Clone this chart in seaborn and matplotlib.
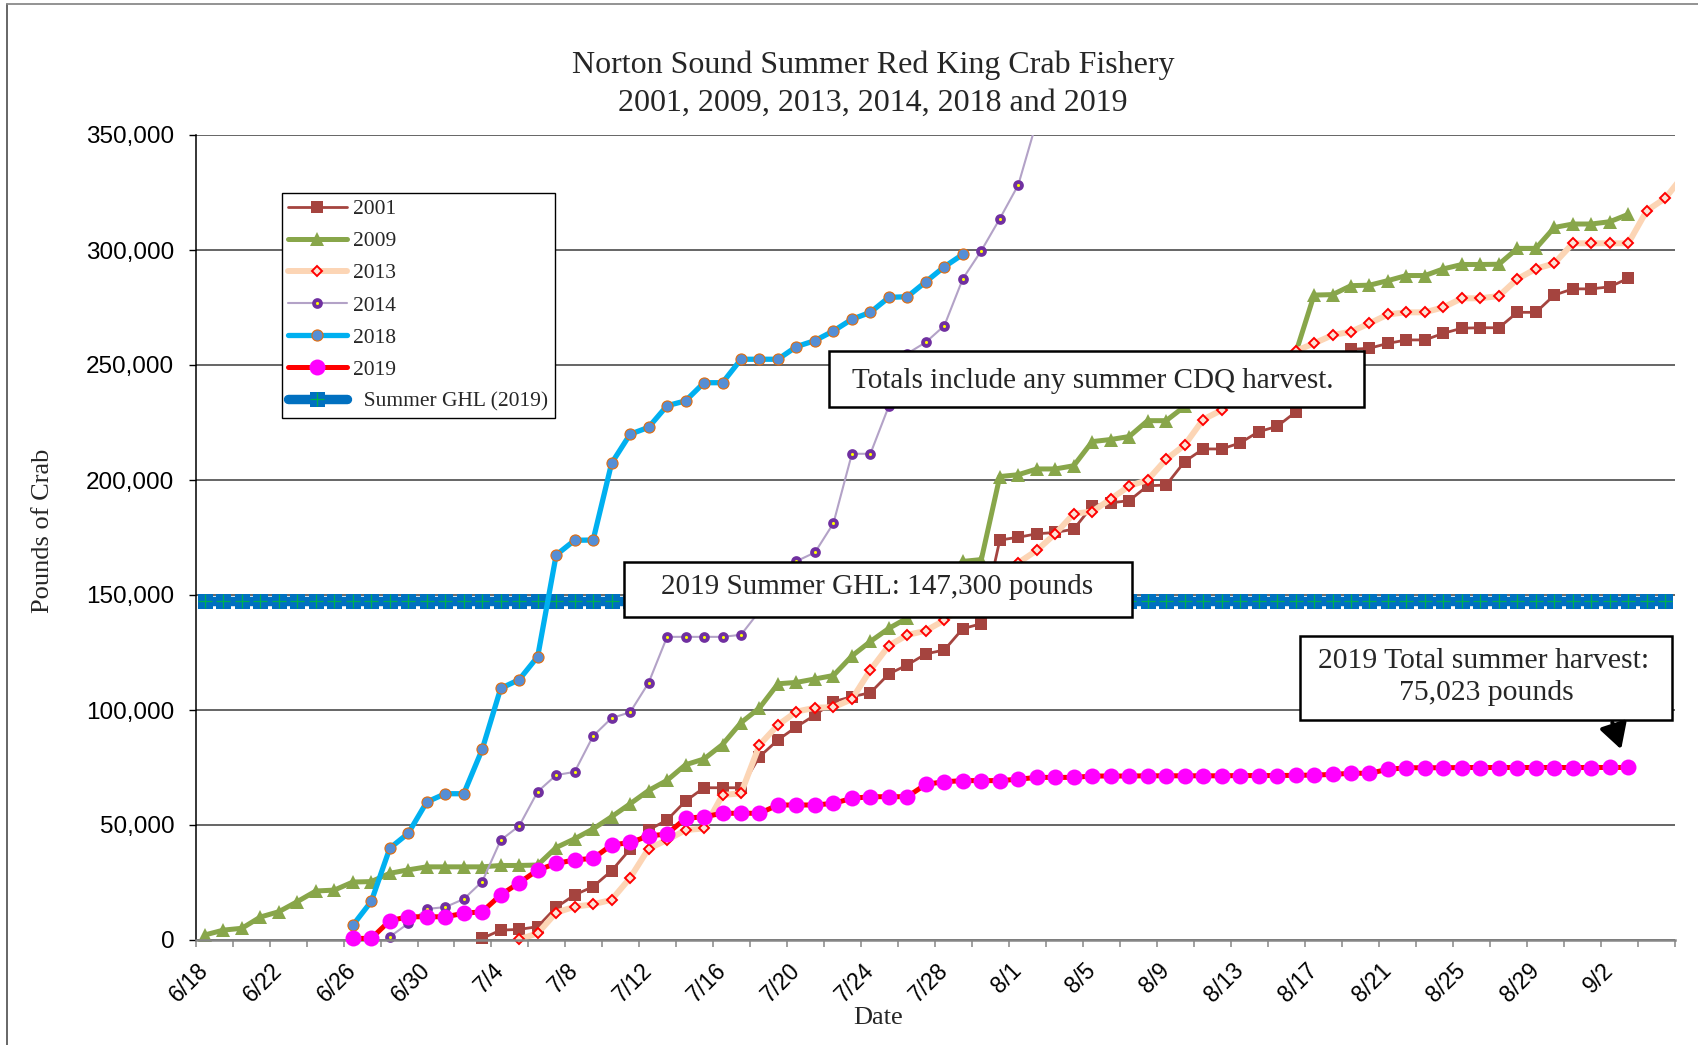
import numpy as np
import pandas as pd
import matplotlib
matplotlib.use("Agg")
import matplotlib.pyplot as plt
import seaborn as sns
from matplotlib.patches import Rectangle, FancyArrowPatch
from matplotlib.lines import Line2D
from matplotlib.ticker import FixedLocator, FuncFormatter

sns.set_theme(style="white")
plt.rcParams["font.family"] = ["Liberation Serif", "DejaVu Serif"]

# ---------------- data ----------------
SEASON_START = "2019-06-18"

start_2001 = "2019-07-03"
pounds_2001 = [700, 4300, 4600, 5800, 14200, 19600, 23200, 30100, 39500, 47800,
               52200, 60400, 66200, 66200, 66200, 79700, 87000, 92700, 97800, 103600,
               105800, 107500, 115700, 119600, 124400, 126100, 135400, 137500, 173900, 175100,
               176600, 177200, 178600, 188700, 190100, 191000, 197500, 197800, 208000, 213500,
               213500, 216100, 221000, 223300, 229500, 241000, 251000, 256800, 257300, 259400,
               260900, 260900, 263800, 266000, 266200, 266200, 272900, 272900, 280400, 283100,
               283100, 284000, 287700]

start_2009 = "2019-06-18"
pounds_2009 = [2200, 4300, 5100, 10000, 12300, 16700, 21300, 21700, 25200, 25400,
               29000, 30500, 31800, 31800, 31800, 31800, 32400, 32400, 32600, 40200,
               44000, 48300, 53600, 59200, 65000, 69400, 76200, 78700, 85000, 94500,
               100900, 111400, 112000, 113500, 115000, 123500, 129800, 135500, 140000, 148000,
               157000, 164600, 165400, 201500, 202300, 204800, 204800, 206200, 216700, 217600,
               218900, 225800, 225800, 232000, 236000, 240000, 244000, 248000, 252000, 255000,
               280400, 280600, 284500, 284700, 286700, 288900, 288900, 291800, 293700, 293700,
               293800, 300700, 300700, 309800, 311300, 311300, 312300, 315500]

start_2013 = "2019-07-05"
pounds_2013 = [300, 2900, 11900, 14500, 15500, 17500, 27000, 39700, 43500, 47800,
               48500, 63000, 63800, 84800, 93500, 99300, 101000, 101200, 104700, 117400,
               128000, 132600, 134500, 139000, 145000, 151000, 158000, 164000, 169400, 176600,
               185300, 186300, 191700, 197400, 200000, 209000, 215200, 226300, 230400, 237000,
               243500, 250000, 256100, 259400, 263000, 264500, 268100, 272000, 272900, 272900,
               275100, 279000, 279000, 280000, 287400, 291800, 294200, 302900, 302900, 302900,
               302900, 317100, 322500, 332600]

start_2014 = "2019-06-28"
pounds_2014 = [1400, 7200, 13500, 14300, 17800, 25400, 43400, 49600, 64500, 71700,
               73100, 88700, 96500, 99000, 111800, 131800, 131800, 131800, 131800, 132700,
               143000, 154000, 164700, 168500, 181200, 211400, 211400, 232200, 255000, 259900,
               267100, 287500, 299700, 313600, 328300, 356000]

start_2018 = "2019-06-26"
pounds_2018 = [6400, 16800, 39900, 46400, 60000, 63600, 63600, 82900, 109400, 113200,
               123200, 167400, 173800, 173900, 207300, 219900, 222900, 232300, 234400, 242300,
               242300, 252500, 252500, 252500, 258000, 260600, 264800, 269900, 272900, 279400,
               279700, 286200, 292700, 298100]

start_2019 = "2019-06-26"
pounds_2019 = [700, 700, 8400, 10100, 10100, 10100, 11600, 12300, 19600, 24900,
               30400, 33300, 34800, 35500, 41300, 42400, 45200, 46100, 52900, 53600,
               55100, 55100, 55100, 58700, 58700, 58700, 59400, 61600, 62300, 62300,
               62300, 67700, 68800, 69300, 69300, 69300, 69900, 70700, 70700, 70700,
               71300, 71300, 71300, 71400, 71400, 71400, 71400, 71400, 71500, 71500,
               71500, 71600, 71700, 72000, 72500, 72500, 74200, 74900, 74900, 74900,
               75000, 75000, 75000, 75000, 75000, 75000, 75000, 75000, 75023, 75023]

ghl_start = "2019-06-18"
ghl_end = "2019-09-05"
ghl_pounds = 147300

x_tick_labels = ["6/18", "6/22", "6/26", "6/30", "7/4", "7/8", "7/12", "7/16", "7/20",
                 "7/24", "7/28", "8/1", "8/5", "8/9", "8/13", "8/17", "8/21", "8/25",
                 "8/29", "9/2"]
y_ticks = [0, 50000, 100000, 150000, 200000, 250000, 300000, 350000]


def day_positions(start, n):
    first = (pd.Timestamp(start) - pd.Timestamp(SEASON_START)).days
    return first + np.arange(n)


ghl_n = (pd.Timestamp(ghl_end) - pd.Timestamp(ghl_start)).days + 1
ghl_values = [ghl_pounds] * ghl_n

# ---------------- figure ----------------
W, H = 1698, 1045
fig = plt.figure(figsize=(W / 100, H / 100), dpi=100)
ax_l, ax_r, ax_t, ax_b = 195.7, 1674.5, 135.0, 940.0
ax = fig.add_axes([ax_l / W, 1 - ax_b / H, (ax_r - ax_l) / W, (ax_b - ax_t) / H])
ax.set_facecolor("white")


def clip_top_right(line):
    rect = Rectangle((-0.06, -0.06), 1.06, 1.06, transform=ax.transAxes)
    line.set_clip_path(rect)


def draw(start, values, z, **style):
    x = day_positions(start, len(values))
    sns.lineplot(x=x, y=values, ax=ax, estimator=None, sort=False, zorder=z, **style)
    line = ax.lines[-1]
    clip_top_right(line)
    return line


h_ghl = draw(ghl_start, ghl_values, 2.0, color="#0070C0", linewidth=6.8, marker="s",
             markersize=10.8, markerfacecolor="#0070C0", markeredgecolor="#0070C0",
             markeredgewidth=0)
h_ghl_plus = draw(ghl_start, ghl_values, 2.05, color="none", linewidth=0, marker="+",
                  markersize=9.5, markeredgecolor="#00B050", markeredgewidth=0.9)
h_2001 = draw(start_2001, pounds_2001, 2.1, color="#A5443F", linewidth=2.0, marker="s",
              markersize=8.0, markerfacecolor="#A5443F", markeredgecolor="#A5443F",
              markeredgewidth=0)
h_2009 = draw(start_2009, pounds_2009, 2.2, color="#88A64A", linewidth=3.6, marker="^",
              markersize=10, markerfacecolor="#88A64A", markeredgecolor="#88A64A",
              markeredgewidth=0)
h_2013 = draw(start_2013, pounds_2013, 2.3, color="#FCD5B5", linewidth=4.3, marker="D",
              markersize=4.6, markerfacecolor="#FBE3D6", markeredgecolor="#FF0000",
              markeredgewidth=1.4)
h_2014 = draw(start_2014, pounds_2014, 2.4, color="#B3A2C7", linewidth=1.5, marker="o",
              markersize=5.0, markerfacecolor="#FFFF00", markeredgecolor="#7030A0",
              markeredgewidth=2.7)
h_2018 = draw(start_2018, pounds_2018, 2.5, color="#00B0F0", linewidth=3.8, marker="o",
              markersize=8.0, markerfacecolor="#558ED5", markeredgecolor="#E46C0A",
              markeredgewidth=0.8)
h_2019 = draw(start_2019, pounds_2019, 2.6, color="#FF0000", linewidth=3.6, marker="o",
              markersize=11.5, markerfacecolor="#FF00FF", markeredgecolor="#FF00FF",
              markeredgewidth=0)

# ---------------- axes ----------------
ax.set_xlim(-0.5, 79.5)
ax.set_ylim(0, 350000)
ax.set_xlabel("")
ax.set_ylabel("")

ax.yaxis.set_major_locator(FixedLocator(y_ticks))
ax.yaxis.set_major_formatter(FuncFormatter(lambda v, p: f"{int(v):,}"))
ax.yaxis.grid(True, color="#3c3c3c", linewidth=1.1)
ax.xaxis.grid(False)
ax.set_axisbelow(True)

label_pos = np.arange(0, 4 * len(x_tick_labels), 4)
ax.set_xticks(label_pos)
ax.set_xticklabels(x_tick_labels, rotation=45, ha="right", va="center",
                   rotation_mode="anchor")
ax.set_xticks(np.arange(-0.5, 80, 2), minor=True)

ax.tick_params(axis="x", which="major", length=0, pad=19.5, labelsize=16.5,
               labelcolor="black", labelfontfamily="Liberation Sans")
ax.tick_params(axis="x", which="minor", length=5, width=1.1, color="#868686",
               direction="out", bottom=True)
ax.tick_params(axis="y", which="major", length=5, width=1.0, color="black",
               direction="out", left=True, pad=10.5, labelsize=17.5,
               labelcolor="black", labelfontfamily="Liberation Sans")

for side in ("top", "right"):
    ax.spines[side].set_visible(False)
ax.spines["left"].set_color("black")
ax.spines["left"].set_linewidth(1.1)
ax.spines["bottom"].set_color("#868686")
ax.spines["bottom"].set_linewidth(1.8)

# ---------------- legend ----------------
handles = [h_2001, h_2009, h_2013, h_2014, h_2018, h_2019, (h_ghl, h_ghl_plus)]
labels = ["2001", "2009", "2013", "2014", "2018", "2019", "  Summer GHL (2019)"]
leg = ax.legend(handles, labels, loc="upper left",
                bbox_to_anchor=(281.5 / W, 1 - 192.7 / H), bbox_transform=fig.transFigure,
                borderaxespad=0, fontsize=15.5, handlelength=2.72, handletextpad=0.3,
                labelspacing=0.56, borderpad=0.3, frameon=True, fancybox=False,
                framealpha=1, edgecolor="black")
leg.get_frame().set_linewidth(1.0)
leg.set_zorder(10)

# ---------------- text ----------------
def fx(x):
    return x / W


def fy(y):
    return 1 - y / H


fig.text(fx(873), fy(73.5), "Norton Sound Summer Red King Crab Fishery",
         ha="center", va="baseline", fontsize=23)
fig.text(fx(873), fy(110.5), "2001, 2009, 2013, 2014, 2018 and 2019",
         ha="center", va="baseline", fontsize=23)
fig.text(fx(43), fy(531), "Pounds of Crab", rotation=90, ha="center", va="center",
         fontsize=19)
fig.text(fx(878), fy(1018), "Date", ha="center", va="center", fontsize=19)


def text_box(x0, y0, x1, y1, lines, centers, size=21):
    fig.add_artist(Rectangle((fx(x0), fy(y1)), fx(x1) - fx(x0), fy(y0) - fy(y1),
                             transform=fig.transFigure, facecolor="white",
                             edgecolor="black", linewidth=1.8, zorder=20))
    for txt, (cx, cy) in zip(lines, centers):
        fig.text(fx(cx), fy(cy), txt, ha="center", va="center", fontsize=size, zorder=21)


text_box(829, 350.5, 1364, 407, ["Totals include any summer CDQ harvest."],
         [(1093, 381)])
text_box(624, 561.7, 1131.7, 617, ["2019 Summer GHL: 147,300 pounds"], [(877, 587.5)])
text_box(1299.5, 635.7, 1671.5, 719.5, ["2019 Total summer harvest:", "75,023 pounds"],
         [(1484, 661), (1486, 693.5)], size=21.3)

arrow = FancyArrowPatch((fx(1611.5), fy(720)), (fx(1622), fy(752)),
                        transform=fig.transFigure,
                        arrowstyle="-|>,head_length=0.75,head_width=0.42",
                        mutation_scale=20, linewidth=3, color="black", zorder=22)
fig.add_artist(arrow)

# outer chart frame (left and top edges visible)
fig.add_artist(Line2D([fx(6.5), fx(6.5)], [0, fy(4)], transform=fig.transFigure,
                      color="#5a5a5a", linewidth=1.3))
fig.add_artist(Line2D([fx(6.5), 1], [fy(4), fy(4)], transform=fig.transFigure,
                      color="#8a8a8a", linewidth=1.3))

fig.savefig("out.png", dpi=100)
